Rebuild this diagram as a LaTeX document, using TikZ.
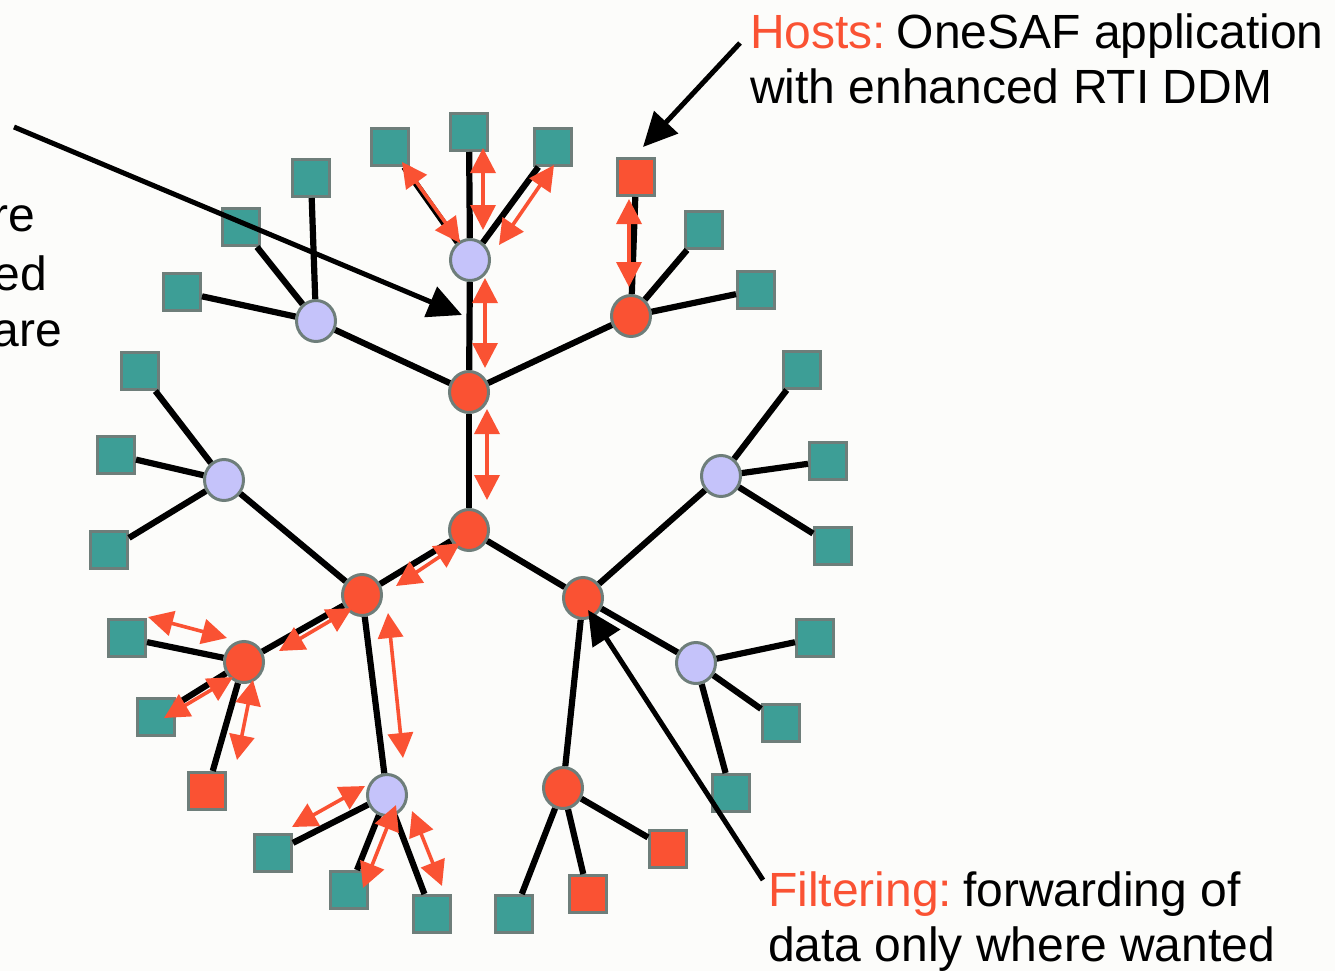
\documentclass[tikz,border=0pt]{standalone}
\usepackage{fontspec}
\setmainfont{Liberation Sans}
\usetikzlibrary{arrows.meta,shapes.geometric,calc}
\definecolor{tealhost}{RGB}{61,158,150}
\definecolor{bordgray}{RGB}{110,126,122}
\definecolor{orng}{RGB}{250,82,51}
\definecolor{lav}{RGB}{197,195,250}
\definecolor{bgc}{RGB}{252,252,250}
\begin{document}
\begin{tikzpicture}[x=1pt,y=-1pt,
  host/.style={rectangle, draw=bordgray, line width=3pt, fill=tealhost, minimum size=37pt, inner sep=0pt},
  ohost/.style={host, fill=orng},
  lrouter/.style={ellipse, draw=bordgray, line width=3pt, fill=lav, minimum width=39pt, minimum height=41pt, inner sep=0pt},
  orouter/.style={lrouter, fill=orng},
  link/.style={line width=6.2pt, draw=black},
  flow/.style={draw=orng, line width=3.6pt, {Triangle[length=25pt,width=25pt]}-{Triangle[length=25pt,width=25pt]}},
  pointer/.style={line width=5pt, draw=black, -{Triangle[length=34pt,width=32pt]}},
  lbl/.style={font=\fontsize{48}{56}\selectfont, inner sep=0pt, anchor=base west},
  frag/.style={lbl, anchor=base east}
]
\useasboundingbox (0,0) rectangle (1335,971);
\fill[bgc] (0,0) rectangle (1335,971);

% routers
\node[lrouter] (l1) at (470,260) {};
\node[orouter] (r0) at (469,392) {};
\node[orouter] (r1) at (469,530) {};
\node[orouter] (o1) at (631,316) {};
\node[lrouter] (lA) at (316,321) {};
\node[lrouter] (lB) at (224,480) {};
\node[orouter] (o2) at (362,595) {};
\node[orouter] (o3) at (244,662) {};
\node[lrouter] (l3) at (387,795) {};
\node[orouter] (o4) at (583,598) {};
\node[lrouter] (lC) at (721,476) {};
\node[lrouter] (lD) at (696,663) {};
\node[orouter] (o5) at (563,788) {};

% hosts
\node[host] (t1) at (390,147) {};
\node[host] (t2) at (469,132) {};
\node[host] (t3) at (553,147) {};
\node[ohost] (hsq) at (636,177) {};
\node[host] (h1b) at (704,230) {};
\node[host] (h1c) at (756,290) {};
\node[host] (hAa) at (311,178) {};
\node[host] (hAb) at (241,227) {};
\node[host] (hAc) at (182,292) {};
\node[host] (hBa) at (140,371) {};
\node[host] (hBb) at (116,455) {};
\node[host] (hBc) at (109,550) {};
\node[host] (h3a) at (127,638) {};
\node[host] (h3b) at (156,717) {};
\node[ohost] (h3c) at (207,791) {};
\node[host] (hLa) at (273,853) {};
\node[host] (hLb) at (349,890) {};
\node[host] (hLc) at (432,914) {};
\node[host] (hCa) at (802,370) {};
\node[host] (hCb) at (828,461) {};
\node[host] (hCc) at (833,546) {};
\node[host] (hDa) at (815,638) {};
\node[host] (hDb) at (781,723) {};
\node[host] (hDc) at (731,793) {};
\node[host] (h5a) at (514,914) {};
\node[ohost] (h5b) at (588,894) {};
\node[ohost] (h5c) at (668,849) {};

% links
\draw[link] (t1) -- (l1);
\draw[link] (t2) -- (l1);
\draw[link] (t3) -- (l1);
\draw[link] (l1) -- (r0);
\draw[link] (r0) -- (lA);
\draw[link] (lA) -- (hAa);
\draw[link] (lA) -- (hAb);
\draw[link] (lA) -- (hAc);
\draw[link] (r0) -- (o1);
\draw[link] (o1) -- (hsq);
\draw[link] (o1) -- (h1b);
\draw[link] (o1) -- (h1c);
\draw[link] (r0) -- (r1);
\draw[link] (r1) -- (o2);
\draw[link] (o2) -- (lB);
\draw[link] (lB) -- (hBa);
\draw[link] (lB) -- (hBb);
\draw[link] (lB) -- (hBc);
\draw[link] (o2) -- (o3);
\draw[link] (o3) -- (h3a);
\draw[link] (o3) -- (h3b);
\draw[link] (o3) -- (h3c);
\draw[link] (o2) -- (l3);
\draw[link] (l3) -- (hLa);
\draw[link] (l3) -- (hLb);
\draw[link] (l3) -- (hLc);
\draw[link] (r1) -- (o4);
\draw[link] (o4) -- (lC);
\draw[link] (lC) -- (hCa);
\draw[link] (lC) -- (hCb);
\draw[link] (lC) -- (hCc);
\draw[link] (o4) -- (lD);
\draw[link] (lD) -- (hDa);
\draw[link] (lD) -- (hDb);
\draw[link] (lD) -- (hDc);
\draw[link] (o4) -- (o5);
\draw[link] (o5) -- (h5a);
\draw[link] (o5) -- (h5b);
\draw[link] (o5) -- (h5c);

% data flows
\draw[flow] ([shift={(12,15)}]t1.center) -- ([shift={(-10,-17)}]l1.center);
\draw[flow] ([shift={(14,16)}]t2.center) -- ([shift={(13,-30)}]l1.center);
\draw[flow] ([shift={(1,18)}]t3.center) -- ([shift={(29,-15)}]l1.center);
\draw[flow] ([shift={(-7,22)}]hsq.center) -- ([shift={(-2,-29)}]o1.center);
\draw[flow] ([shift={(15,18)}]l1.center) -- ([shift={(16,-24)}]r0.center);
\draw[flow] ([shift={(18,17)}]r0.center) -- ([shift={(18,-30)}]r1.center);
\draw[flow] ([shift={(-9,13)}]r1.center) -- ([shift={(34,-9)}]o2.center);
\draw[flow] ([shift={(-10,13)}]o2.center) -- ([shift={(35,-11)}]o3.center);
\draw[flow] ([shift={(21,-21)}]h3a.center) -- ([shift={(-17,-24)}]o3.center);
\draw[flow] ([shift={(-11,15)}]o3.center) -- ([shift={(8,1)}]h3b.center);
\draw[flow] ([shift={(9,18)}]o3.center) -- ([shift={(30,-31)}]h3c.center);
\draw[flow] ([shift={(26,18)}]o2.center) -- ([shift={(16,-37)}]l3.center);
\draw[flow] ([shift={(-22,-9)}]l3.center) -- ([shift={(19,-26)}]hLa.center);
\draw[flow] ([shift={(9,10)}]l3.center) -- ([shift={(14,-2)}]hLb.center);
\draw[flow] ([shift={(25,16)}]l3.center) -- ([shift={(10,-28)}]hLc.center);

% labels
\node[lbl] (hosts1) at (750,49) {\textcolor{orng}{Hosts:}\hspace{10.5pt}OneSAF application};
\node[lbl] (hosts2) at (750,104) {with enhanced RTI DDM};
\node[lbl] (filt1) at (768,906) {\textcolor{orng}{Filtering:}\hspace{11pt}forwarding of};
\node[lbl] (filt2) at (768,961) {data only where wanted};
\node[frag] (fr1) at (35,231) {re};
\node[frag] (fr2) at (47,290) {ed};
\node[frag] (fr3) at (62,346) {are};

% pointers
\coordinate (pA) at (14,127);
\coordinate (pAtip) at (462,315);
\coordinate (pH) at (740,43);
\coordinate (pF) at (763,880);
\draw[pointer] (pA) -- (pAtip);
\draw[pointer] (pH) -- ([shift={(7,-30)}]hsq.center);
\draw[pointer] (pF) -- ([shift={(5,12)}]o4.center);
\end{tikzpicture}
\end{document}
